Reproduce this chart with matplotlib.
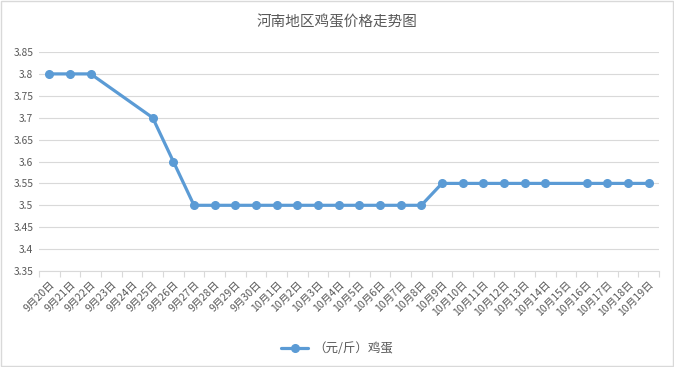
import numpy as np
import matplotlib
matplotlib.use("Agg")
import matplotlib.pyplot as plt
from matplotlib.patches import Rectangle

plt.rcParams['font.family'] = ['Noto Sans CJK SC', 'DejaVu Sans']

# === Data ===
dates = ["9月20日", "9月21日", "9月22日", "9月23日", "9月24日", "9月25日", "9月26日",
         "9月27日", "9月28日", "9月29日", "9月30日", "10月1日", "10月2日", "10月3日",
         "10月4日", "10月5日", "10月6日", "10月7日", "10月8日", "10月9日", "10月10日",
         "10月11日", "10月12日", "10月13日", "10月14日", "10月15日", "10月16日",
         "10月17日", "10月18日", "10月19日"]
prices = [3.8, 3.8, 3.8, np.nan, np.nan, 3.7, 3.6,
          3.5, 3.5, 3.5, 3.5, 3.5, 3.5, 3.5,
          3.5, 3.5, 3.5, 3.5, 3.5, 3.55, 3.55,
          3.55, 3.55, 3.55, 3.55, np.nan, 3.55,
          3.55, 3.55, 3.55]
y_ticks = [3.35, 3.4, 3.45, 3.5, 3.55, 3.6, 3.65, 3.7, 3.75, 3.8, 3.85]
y_tick_labels = ["3.35", "3.4", "3.45", "3.5", "3.55", "3.6", "3.65", "3.7", "3.75", "3.8", "3.85"]

text_color = '#595959'
grid_color = '#d9d9d9'
line_color = '#5b9bd5'

fig = plt.figure(figsize=(6.74, 3.67), dpi=100, facecolor='white')
ax = fig.add_axes([39 / 674, 1 - 271 / 367, 620 / 674, 219 / 367])

# connect across missing days, like Excel does
x = np.arange(len(dates))
y = np.array(prices, dtype=float)
ok = ~np.isnan(y)
ax.plot(x[ok], y[ok], color=line_color, linewidth=2.3, marker='o',
        markersize=5.5, label='（元/斤）鸡蛋', solid_capstyle='round')

ax.set_xlim(-0.5, len(dates) - 0.5)
ax.set_ylim(3.35, 3.85)
ax.set_yticks(y_ticks)
ax.set_yticklabels(y_tick_labels)
ax.set_xticks(x)
ax.set_xticklabels(dates, rotation=45, ha='right', va='top', rotation_mode='anchor')
ax.set_xticks(np.arange(-0.5, len(dates)), minor=True)

ax.tick_params(axis='x', which='major', length=0, pad=6, labelsize=7.6, labelcolor=text_color)
ax.tick_params(axis='x', which='minor', length=4, color=grid_color, width=0.8)
ax.tick_params(axis='y', length=0, pad=4, labelsize=7.4, labelcolor=text_color)

ax.grid(axis='y', color=grid_color, linewidth=0.8)
ax.set_axisbelow(True)
for side in ['top', 'right', 'left']:
    ax.spines[side].set_visible(False)
ax.spines['bottom'].set_color(grid_color)
ax.spines['bottom'].set_linewidth(0.8)

fig.text(0.5, 1 - 22 / 367, '河南地区鸡蛋价格走势图', ha='center', va='center',
         fontsize=10.5, color=text_color)

handles, labels = ax.get_legend_handles_labels()
fig.legend(handles, labels, loc='center', bbox_to_anchor=(0.5, 1 - 349 / 367),
           frameon=False, fontsize=9, labelcolor=text_color, handlelength=2.2,
           handletextpad=0.4)

# chart border
fig.patches.append(Rectangle((0.001, 0.002), 0.997, 0.996, transform=fig.transFigure,
                             fill=False, edgecolor=grid_color, linewidth=1))

plt.savefig("out.png", dpi=100, facecolor='white')
